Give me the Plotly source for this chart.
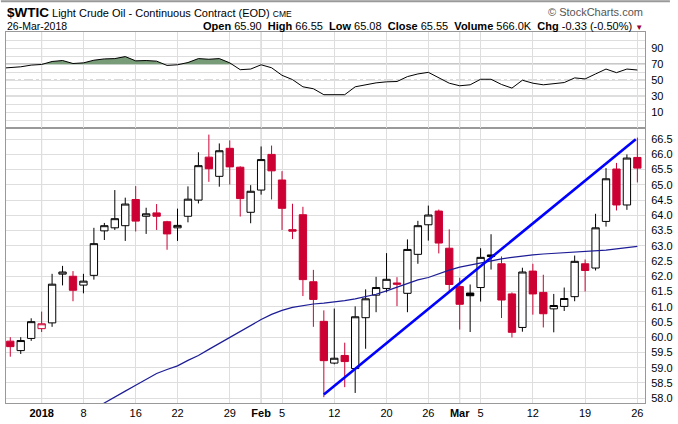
import plotly.graph_objects as go

# --- data ----------------------------------------------------------------
dates = [
    "2017-12-27", "2017-12-28", "2017-12-29",
    "2018-01-02", "2018-01-03", "2018-01-04", "2018-01-05",
    "2018-01-08", "2018-01-09", "2018-01-10", "2018-01-11", "2018-01-12",
    "2018-01-16", "2018-01-17", "2018-01-18", "2018-01-19",
    "2018-01-22", "2018-01-23", "2018-01-24", "2018-01-25", "2018-01-26",
    "2018-01-29", "2018-01-30", "2018-01-31", "2018-02-01", "2018-02-02",
    "2018-02-05", "2018-02-06", "2018-02-07", "2018-02-08", "2018-02-09",
    "2018-02-12", "2018-02-13", "2018-02-14", "2018-02-15", "2018-02-16",
    "2018-02-20", "2018-02-21", "2018-02-22", "2018-02-23",
    "2018-02-26", "2018-02-27", "2018-02-28", "2018-03-01", "2018-03-02",
    "2018-03-05", "2018-03-06", "2018-03-07", "2018-03-08", "2018-03-09",
    "2018-03-12", "2018-03-13", "2018-03-14", "2018-03-15", "2018-03-16",
    "2018-03-19", "2018-03-20", "2018-03-21", "2018-03-22", "2018-03-23",
    "2018-03-26",
]

opens = [59.87, 59.56, 59.96, 60.28, 60.47, 62.07, 62.00, 61.71, 62.03, 63.49,
         63.59, 63.66, 64.52, 63.97, 64.08, 63.79, 63.59, 63.97, 64.50, 65.91,
         65.28, 66.20, 65.58, 64.10, 64.83, 66.00, 65.16, 63.53, 64.02, 61.82,
         60.52, 59.15, 59.40, 58.97, 60.64, 61.38, 61.60, 61.78, 61.44, 62.72,
         63.69, 64.14, 62.92, 61.66, 61.45, 61.63, 62.70, 62.41, 61.42, 60.32,
         62.17, 61.47, 60.93, 61.01, 61.33, 62.41, 62.27, 63.80, 65.52, 64.34,
         65.90]
highs = [60.00, 60.00, 60.62, 60.84, 62.08, 62.34, 62.17, 62.08, 63.59, 63.75,
         64.83, 64.58, 64.96, 64.25, 64.37, 63.82, 64.22, 64.95, 66.07, 66.65,
         66.36, 66.46, 65.61, 64.99, 66.26, 66.29, 65.45, 64.38, 64.28, 62.21,
         60.88, 60.94, 59.82, 61.01, 61.57, 61.98, 62.76, 61.97, 63.21, 63.82,
         64.32, 64.19, 63.54, 61.95, 61.73, 62.92, 63.38, 62.65, 61.47, 62.28,
         62.41, 62.05, 61.42, 61.63, 62.68, 62.55, 64.05, 65.55, 65.72, 66.00,
         66.55]
lows = [59.36, 59.45, 59.88, 60.17, 60.34, 61.70, 61.18, 61.44, 61.89, 63.19,
        63.52, 63.16, 63.47, 63.39, 63.52, 62.87, 63.16, 63.77, 64.39, 65.10,
        64.94, 65.01, 63.96, 63.74, 64.68, 64.52, 63.52, 63.22, 61.35, 60.34,
        58.03, 59.11, 58.36, 58.17, 59.62, 60.82, 61.47, 61.02, 60.82, 62.41,
        63.17, 62.75, 61.51, 60.25, 60.17, 61.17, 62.22, 60.63, 59.99, 60.18,
        60.74, 60.32, 60.16, 60.86, 61.18, 61.50, 62.19, 63.63, 64.16, 64.18,
        65.08]
closes = [59.69, 59.89, 60.51, 60.44, 61.74, 62.14, 61.54, 61.84, 63.07, 63.66,
          63.89, 64.37, 63.81, 64.05, 63.97, 63.39, 63.67, 64.53, 65.63, 65.53,
          66.12, 65.59, 64.55, 64.79, 65.83, 65.46, 64.23, 63.48, 61.89, 61.24,
          59.23, 59.31, 59.20, 60.67, 61.26, 61.63, 61.90, 61.74, 62.88, 63.66,
          64.01, 63.09, 61.73, 61.08, 61.36, 62.62, 62.65, 61.22, 60.16, 62.14,
          61.42, 60.77, 61.04, 61.27, 62.49, 62.19, 63.59, 65.20, 64.34, 65.88,
          65.55]

# 50-day simple moving average (None = below the visible price range)
sma50 = [None, None, None, None, None, None, None,
         57.45, 57.65, 57.83, 58.03, 58.23, 58.42, 58.62, 58.81, 58.94, 59.06,
         59.24, 59.40, 59.60, 59.80, 59.98, 60.18, 60.38, 60.58, 60.75, 60.88,
         60.98, 61.04, 61.09, 61.12, 61.15, 61.20, 61.26, 61.33, 61.41, 61.52,
         61.64, 61.76, 61.88, 61.96, 62.09, 62.20, 62.30, 62.37, 62.44, 62.51,
         62.57, 62.62, 62.67, 62.70, 62.73, 62.75, 62.77, 62.79, 62.80, 62.83,
         62.86, 62.90, 62.94, 62.98]

# RSI(14); rsi_prev is 26-Dec, just left of the window
rsi_prev = 64.8
rsi = [65.5, 66.7, 68.8, 69.6, 73.3, 74.5, 70.8, 71.6, 74.9, 76.5,
       76.9, 79.4, 74.1, 74.5, 73.7, 68.4, 69.2, 72.0, 76.9, 76.1,
       76.9, 71.6, 63.1, 63.9, 69.2, 65.5, 56.1, 50.8, 41.8, 39.4,
       32.0, 32.0, 32.0, 41.8, 44.7, 46.7, 48.0, 48.4, 54.5, 57.8,
       59.8, 53.3, 46.3, 43.1, 44.3, 51.2, 51.2, 44.7, 40.2, 50.0,
       46.3, 44.3, 45.5, 47.1, 52.9, 51.6, 57.8, 63.9, 59.4, 63.9,
       62.7]

# hand-drawn trend line (start / end)
trend_dates = ["2018-02-09", "2018-03-23"]
trend_prices = [58.12, 66.50]
trend_end_frac = 0.85  # line stops a little past the 23-Mar bar

tick_dates = ["2018-01-02", "2018-01-08", "2018-01-16", "2018-01-22", "2018-01-29",
              "2018-02-01", "2018-02-05", "2018-02-12", "2018-02-20", "2018-02-26",
              "2018-03-01", "2018-03-05", "2018-03-12", "2018-03-19", "2018-03-26"]
tick_text = ["<b>2018</b>", "8", "16", "22", "29", "<b>Feb</b>", "5", "12", "20", "26",
             "<b>Mar</b>", "5", "12", "19", "26"]
month_dates = ["2018-01-02", "2018-02-01", "2018-03-01"]

# --- styling --------------------------------------------------------------
RED = "#cc0033"
FONT = "Liberation Sans, Arial, sans-serif"
GRID = "#dedede"

idx = list(range(len(dates)))
pos = {d: i for i, d in enumerate(dates)}

# StockCharts colouring: red when close is below the previous close
down = []
for i in idx:
    ref = closes[i - 1] if i > 0 else opens[i]
    down.append(closes[i] < ref)
red_i = [i for i in idx if down[i]]
blk_i = [i for i in idx if not down[i]]


def pick(vals, ids):
    return [vals[i] for i in ids]


fig = go.Figure()

# RSI panel ---------------------------------------------------------------
rx = [-1] + idx
ry = [rsi_prev] + rsi
fx, fy = [], []
for i in range(len(rx)):
    if i > 0 and (ry[i - 1] - 70) * (ry[i] - 70) < 0:
        t = (70 - ry[i - 1]) / (ry[i] - ry[i - 1])
        fx.append(rx[i - 1] + t * (rx[i] - rx[i - 1]))
        fy.append(70)
    fx.append(rx[i])
    fy.append(max(ry[i], 70))

fig.add_trace(go.Scatter(x=fx, y=[70] * len(fx), mode="lines", line=dict(width=0),
                         xaxis="x2", yaxis="y2", hoverinfo="skip", showlegend=False))
fig.add_trace(go.Scatter(x=fx, y=fy, mode="lines", line=dict(width=0), fill="tonexty",
                         fillcolor="#789b78", xaxis="x2", yaxis="y2",
                         hoverinfo="skip", showlegend=False))
fig.add_trace(go.Scatter(x=rx, y=ry, mode="lines", line=dict(color="black", width=1),
                         xaxis="x2", yaxis="y2", showlegend=False, name="RSI(14)"))

# Price panel -------------------------------------------------------------
fig.add_trace(go.Candlestick(
    x=blk_i, open=pick(opens, blk_i), high=pick(highs, blk_i),
    low=pick(lows, blk_i), close=pick(closes, blk_i),
    increasing=dict(line=dict(color="black", width=1), fillcolor="white"),
    decreasing=dict(line=dict(color="black", width=1), fillcolor="black"),
    whiskerwidth=0, showlegend=False, name="$WTIC"))
fig.add_trace(go.Candlestick(
    x=red_i, open=pick(opens, red_i), high=pick(highs, red_i),
    low=pick(lows, red_i), close=pick(closes, red_i),
    increasing=dict(line=dict(color=RED, width=1), fillcolor="white"),
    decreasing=dict(line=dict(color=RED, width=1), fillcolor=RED),
    whiskerwidth=0, showlegend=False, name="$WTIC"))

fig.add_trace(go.Scatter(x=idx, y=sma50, mode="lines",
                         line=dict(color="#1c1c96", width=1.2),
                         showlegend=False, name="MA(50)"))

tx = [pos[trend_dates[0]], pos[trend_dates[1]] + trend_end_frac]
fig.add_trace(go.Scatter(x=tx, y=trend_prices, mode="lines",
                         line=dict(color="#0000ff", width=2.6), showlegend=False))

# layout ------------------------------------------------------------------
tick_pos = [pos[d] for d in tick_dates]
xr = [-0.41, 60.73]

fig.update_layout(
    width=678, height=424,
    margin=dict(l=5, r=31, t=32, b=16),
    paper_bgcolor="white", plot_bgcolor="white",
    font=dict(family=FONT, size=11, color="black"),
    boxgap=0.3, boxgroupgap=0,
    xaxis=dict(domain=[0, 1], range=xr, anchor="y", tickmode="array",
               tickvals=tick_pos, ticktext=tick_text, showgrid=True, gridcolor=GRID,
               gridwidth=1, showline=True, linecolor="#999", mirror=True,
               ticks="", rangeslider=dict(visible=False), zeroline=False,
               tickfont=dict(size=11)),
    yaxis=dict(domain=[0, 0.7407], range=[57.84, 66.86], side="right",
               tickmode="linear", tick0=58, dtick=0.5, tickformat=".1f",
               showgrid=True, gridcolor=GRID, showline=True, linecolor="#999",
               mirror=True, ticks="outside", ticklen=3, tickcolor="white",
               zeroline=False),
    xaxis2=dict(domain=[0, 1], range=xr, anchor="y2", matches="x", tickmode="array",
                tickvals=tick_pos, showticklabels=False, showgrid=True,
                gridcolor=GRID, showline=True, linecolor="#999", mirror=True,
                ticks="", zeroline=False),
    yaxis2=dict(domain=[0.7407, 1], range=[-9.7, 110], side="right",
                tickmode="array", tickvals=[10, 30, 50, 70, 90],
                minor=dict(tickmode="linear", tick0=0, dtick=10, showgrid=True,
                           gridcolor=GRID, ticks=""),
                showgrid=True, gridcolor=GRID, showline=True, linecolor="#999",
                mirror=True, ticks="outside", ticklen=3, tickcolor="white",
                zeroline=False),
)

shapes = []
for d in month_dates:
    shapes.append(dict(type="line", xref="x", yref="paper", x0=pos[d], x1=pos[d],
                       y0=0, y1=1, line=dict(color="#bcbcbc", width=1), layer="between"))
for lvl, dash in [(70, "solid"), (30, "solid"), (50, "dashdot")]:
    shapes.append(dict(type="line", xref="paper", yref="y2", x0=0, x1=1, y0=lvl, y1=lvl,
                       line=dict(color="#666" if dash == "solid" else "#777",
                                 width=1, dash=dash), layer="between"))
shapes.append(dict(type="line", xref="paper", yref="paper", x0=-0.008, x1=1.039,
                   y0=1.083, y1=1.083, line=dict(color="#999", width=2)))
fig.update_layout(shapes=shapes)

fig.add_annotation(xref="paper", yref="paper", x=-0.002, y=1.0535, xanchor="left",
                   yanchor="middle", showarrow=False,
                   text="<span style='font-size:13.5px'><b>$WTIC</b></span> "
                        "Light Crude Oil - Continuous Contract (EOD) "
                        "<span style='font-size:8.5px'>CME</span>",
                   font=dict(size=11))
fig.add_annotation(xref="paper", yref="paper", x=1, y=1.0535, xanchor="right",
                   yanchor="middle", showarrow=False, text="© StockCharts.com",
                   font=dict(size=11, color="#555"))
fig.add_annotation(xref="paper", yref="paper", x=-0.002, y=1.0175, xanchor="left",
                   yanchor="middle", showarrow=False, text="26-Mar-2018",
                   font=dict(size=10.5))
fig.add_annotation(xref="paper", yref="paper", x=1, y=1.0175, xanchor="right",
                   yanchor="middle", showarrow=False,
                   text="<b>Open</b> 65.90  <b>High</b> 66.55  <b>Low</b> 65.08  "
                        "<b>Close</b> 65.55  <b>Volume</b> 566.0K  "
                        "<b>Chg</b> -0.33 (-0.50%) "
                        "<span style='color:#990033;font-size:8px'>▼</span>",
                   font=dict(size=11))

# the page's default 8px body margin would push the chart off the window
fig.write_html("out.html", config={"displayModeBar": False},
               post_script="document.body.style.margin='0';")
